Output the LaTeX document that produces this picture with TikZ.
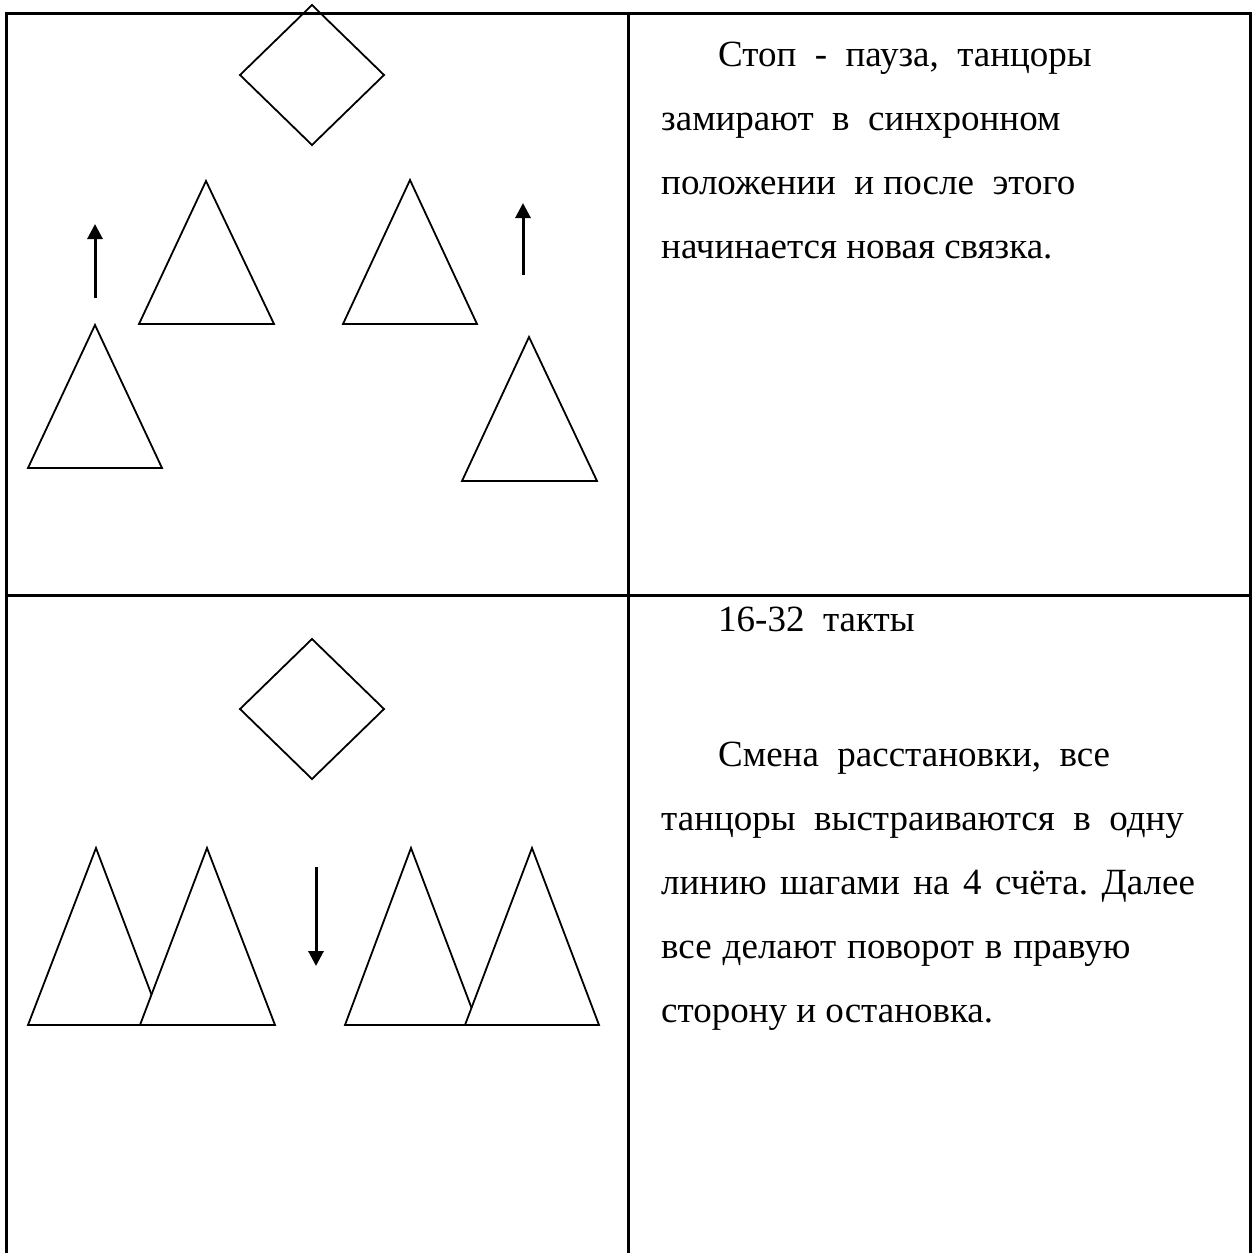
\documentclass[tikz,border=0pt]{standalone}
\usepackage{fontspec}
\setmainfont{Liberation Serif}
\usetikzlibrary{arrows.meta}
\begin{document}
\begin{tikzpicture}[x=1pt,y=-1pt,
  frame/.style={line width=3pt},
  figline/.style={line width=1.8pt,line join=miter},
  fig/.style={figline,draw=black,fill=white},
  move/.style={line width=3pt,-{Triangle[length=15pt,width=15pt]}},
  txt/.style={anchor=base west,inner sep=0pt,font=\fontsize{37pt}{44pt}\selectfont}]
\useasboundingbox (0,0) rectangle (1255,1253);
% table frame
\draw[frame] (6,1253) -- (6,13) -- (1250,13) -- (1250,1253);
\draw[frame] (628,13) -- (628,1253);
\draw[frame] (6,595) -- (1250,595);
% top cell figures
\draw[figline] (312,5) -- (384,75) -- (312,145) -- (240,75) -- cycle;
\draw[figline] (206,181) -- (274,324) -- (139,324) -- cycle;
\draw[figline] (410,180) -- (477,324) -- (343,324) -- cycle;
\draw[figline] (95,325) -- (162,468) -- (28,468) -- cycle;
\draw[figline] (529,337) -- (597,481) -- (462,481) -- cycle;
\coordinate (a1s) at (95,298); \coordinate (a1e) at (95,224);
\coordinate (a2s) at (523,275); \coordinate (a2e) at (523,203);
\draw[move] (a1s) -- (a1e);
\draw[move] (a2s) -- (a2e);
% bottom cell figures
\draw[figline] (312,639) -- (384,709) -- (312,779) -- (240,709) -- cycle;
\draw[fig] (96,848) -- (163,1025) -- (28,1025) -- cycle;
\draw[fig] (207,848) -- (275,1025) -- (140,1025) -- cycle;
\draw[fig] (411,848) -- (478,1025) -- (345,1025) -- cycle;
\draw[fig] (532,848) -- (599,1025) -- (465,1025) -- cycle;
\coordinate (a3s) at (316,867); \coordinate (a3e) at (316,966);
\draw[move] (a3s) -- (a3e);
% texts
\node[txt] (t1) at (718,66) {Стоп\ \ -\ \ пауза,\ \ танцоры};
\node[txt] (t2) at (661,130) {замирают\ \ в\ \ синхронном};
\node[txt] (t3) at (661,194) {положении\ \ и после\ \ этого};
\node[txt] (t4) at (661,258) {начинается новая связка.};
\node[txt] (t5) at (718,631) {16-32\ \ такты};
\node[txt] (t6) at (718,766) {Смена\ \ расстановки,\ \ все};
\node[txt] (t7) at (661,830) {танцоры\ \ выстраиваются\ \ в\ \ одну};
\node[txt] (t8) at (661,894) {линию\hspace{13.5pt}шагами\hspace{13.5pt}на\hspace{13.5pt}4\hspace{13.5pt}счёта.\hspace{13.5pt}Далее};
\node[txt] (t9) at (661,958) {все\hspace{11pt}делают\hspace{11pt}поворот\hspace{11pt}в\hspace{11pt}правую};
\node[txt] (t10) at (661,1022) {сторону и остановка.};
\end{tikzpicture}
\end{document}
